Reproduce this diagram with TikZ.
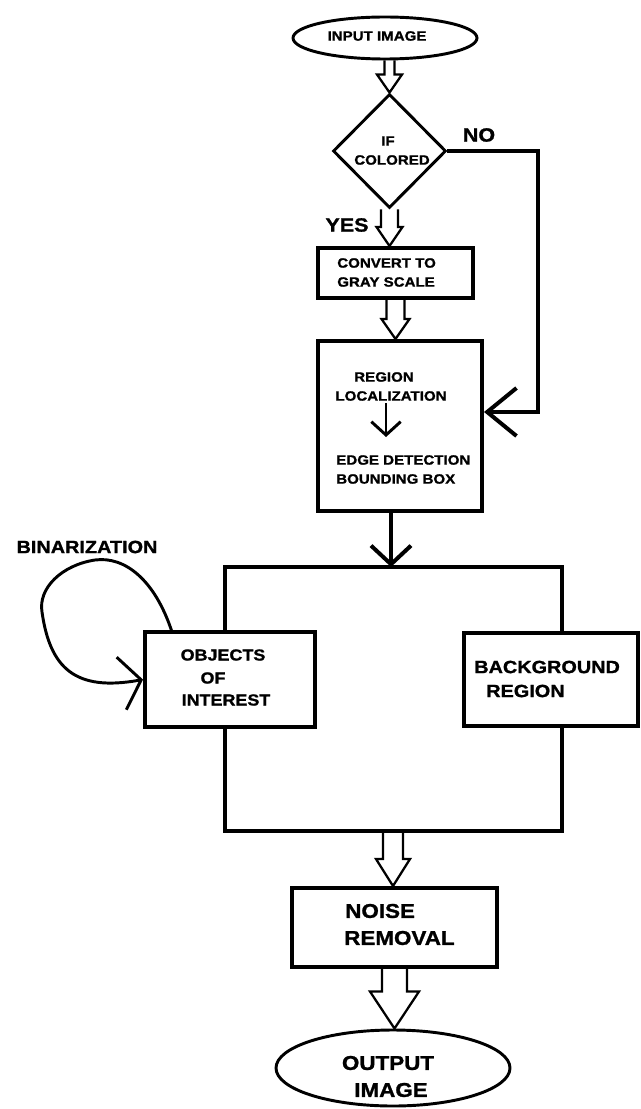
\documentclass[tikz,border=0pt]{standalone}
\usepackage{fontspec}
\newfontfamily\lab[FakeStretch=1.12, BoldFeatures={FakeBold=1.2}]{Liberation Sans}
\usetikzlibrary{shapes.geometric,arrows.meta,calc,backgrounds}
\newcommand\hollowarrow[5]{%
  \draw[harrow] let \p1=#1, \p2=#2 in
    ({\x1-#3*0.75pt},\y1) -- ({\x1-#3*0.75pt},{\y2+#5*0.75pt}) -- ({\x1-#4*0.75pt},{\y2+#5*0.75pt})
    -- (\x1,\y2) -- ({\x1+#4*0.75pt},{\y2+#5*0.75pt}) -- ({\x1+#3*0.75pt},{\y2+#5*0.75pt}) -- ({\x1+#3*0.75pt},\y1);
}
\tikzset{
  box/.style={draw, rectangle, line width=3pt, fill=white, inner sep=0pt},
  ell/.style={draw, ellipse, line width=2.2pt, fill=white, inner sep=0pt},
  dia/.style={draw, diamond, line width=2.2pt, fill=white, inner sep=0pt},
  lbl/.style={inner sep=0pt, font=\lab\bfseries\fontsize{10.1}{12}\selectfont},
  lblm/.style={inner sep=0pt, font=\lab\bfseries\fontsize{12}{14}\selectfont},
  lbll/.style={inner sep=0pt, font=\lab\bfseries\fontsize{13.3}{15}\selectfont},
  lblx/.style={inner sep=0pt, font=\lab\bfseries\fontsize{15}{17}\selectfont},
  conn/.style={line width=3pt},
  harrow/.style={line width=1.7pt, line join=miter},
}
\begin{document}
\begin{tikzpicture}[x=0.75pt,y=-0.75pt]
\useasboundingbox (0,0) rectangle (641,1109);

% nodes
\node[ell, minimum width=184*0.75pt, minimum height=42*0.75pt] (in) at (385,38) {};
\node[lbl] (tin) at (377,36) {INPUT IMAGE};

\node[dia, minimum width=113*0.75pt, minimum height=114*0.75pt] (dec) at (389.5,151) {};
\node[lbl] (tif) at (388,141) {IF};
\node[lbl] (tcol) at (392,160) {COLORED};
\node[lblx, font=\lab\bfseries\fontsize{14.4}{16}\selectfont] (tno) at (479,135) {NO};
\node[lblx, font=\lab\bfseries\fontsize{14.4}{16}\selectfont] (tyes) at (347,225) {YES};

\node[box, minimum width=155*0.75pt, minimum height=50*0.75pt] (conv) at (395.5,273) {};
\node[lbl, anchor=west] (tc1) at (337,263) {CONVERT TO};
\node[lbl, anchor=west] (tc2) at (337,282) {GRAY SCALE};

\node[box, minimum width=164*0.75pt, minimum height=170*0.75pt] (reg) at (400,426) {};
\node[lbl] (tr1) at (384,377) {REGION};
\node[lbl] (tr2) at (391,396) {LOCALIZATION};
\node[lbl, anchor=west] (tr3) at (336,460) {EDGE DETECTION};
\node[lbl, anchor=west] (tr4) at (336,479) {BOUNDING BOX};

\node[box, minimum width=170*0.75pt, minimum height=95*0.75pt] (obj) at (230,679.5) {};
\node[lblm] (to1) at (223,655) {OBJECTS};
\node[lblm] (to2) at (213,678) {OF};
\node[lblm] (to3) at (226,700) {INTEREST};

\node[box, minimum width=174*0.75pt, minimum height=93*0.75pt] (bg) at (551,679.5) {};
\node[lbll, anchor=west] (tb1) at (474,667) {BACKGROUND};
\node[lbll, anchor=west] (tb2) at (486,691) {REGION};

\node[lbll] (tbin) at (87,547) {BINARIZATION};

\node[box, minimum width=205*0.75pt, minimum height=79*0.75pt] (noise) at (394.5,927.5) {};
\node[lblx, anchor=west] (tn1) at (345,911) {NOISE};
\node[lblx, anchor=west] (tn2) at (344,938) {REMOVAL};

\node[ell, minimum width=234*0.75pt, minimum height=76*0.75pt] (out) at (393,1068) {};
\node[lblx] (tout1) at (388,1063) {OUTPUT};
\node[lblx] (tout2) at (391,1090) {IMAGE};

% coordinates
\coordinate (nc) at (538,412);
\coordinate (tl) at (225,567);
\coordinate (tr) at (562,567);
\coordinate (br) at (562,831);
\coordinate (bl) at (225,831);
\coordinate (bot) at (393,831);
\coordinate (rsout) at (391,511);
\coordinate (sa) at (386,403);
\coordinate (sb) at (386,437);
\coordinate (bs) at (172,632);

% frame around the two regions
\begin{scope}[on background layer]
\draw[conn] (tl) -- (tr) -- (br) -- (bl) -- cycle;
\end{scope}

% hollow arrows
\hollowarrow{(in.south -| dec.north)}{(dec.north)}{5}{12.5}{18}
\hollowarrow{(dec.south)}{(dec.south |- conv.north)}{8.5}{13}{19}
\hollowarrow{(conv.south)}{(conv.south |- reg.north)}{9}{14}{20}
\hollowarrow{(bot)}{(bot |- noise.north)}{10}{17}{27}
\hollowarrow{(noise.south)}{(noise.south |- out.north)}{12.5}{24.5}{37}

% line connectors
\draw[conn, -{Straight Barb[length=22pt,width=36pt]}] (dec.east) -| (nc) -- (nc -| reg.east);
\draw[conn, -{Straight Barb[length=14pt,width=30pt]}] (rsout) -- (rsout |- tl);
\draw[line width=2.2pt, -{Straight Barb[length=10pt,width=22pt]}] (sa) -- (sb);
\draw[line width=2.2pt, -{Straight Barb[length=15pt,width=40pt]}] (bs)
  .. controls (155,580) and (125,556) .. (95,560)
  .. controls (62,565) and (38,588) .. (42,612)
  .. controls (50,668) and (75,692) .. (obj.west);
\end{tikzpicture}
\end{document}
